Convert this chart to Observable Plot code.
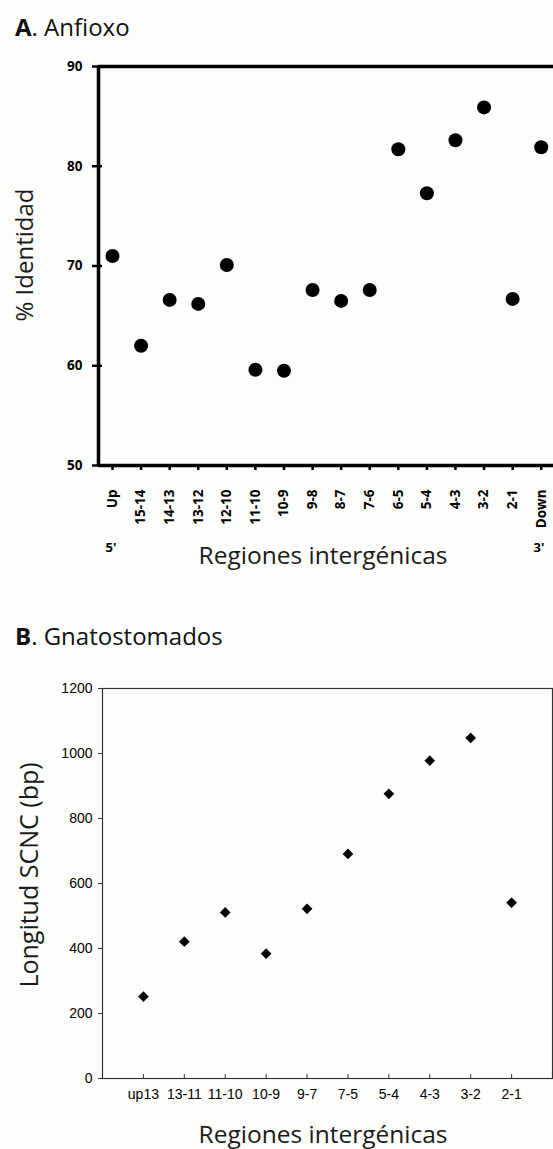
<!DOCTYPE html>
<html>
<head>
<meta charset="utf-8">
<script src="https://cdn.jsdelivr.net/npm/d3@7"></script>
<script src="https://cdn.jsdelivr.net/npm/@observablehq/plot@0.6"></script>
<style>
  html, body { margin: 0; padding: 0; background: #fdfdfb; }
  #wrap { position: relative; width: 553px; height: 1149px; overflow: hidden; font-family: "Open Sans", sans-serif; color: #111; }
  .title { position: absolute; left: 15px; font-size: 24px; line-height: 24px; white-space: nowrap; color: #111; }
  .title b { font-weight: 700; }
  #titleA { top: 15px; }
  #titleB { top: 624px; }
  #plotA { position: absolute; left: 0; top: 0; }
  #plotB { position: absolute; left: 0; top: 600px; }
  .lab { position: absolute; white-space: nowrap; line-height: 1; transform: translate(-50%, -50%); color: #1a1a1a; }
  .rot { transform: translate(-50%, -50%) rotate(-90deg); }
</style>
</head>
<body>
<div id="wrap">
  <div class="title" id="titleA"><b>A</b>. Anfioxo</div>
  <div id="plotA"></div>
  <div class="title" id="titleB"><b>B</b>. Gnatostomados</div>
  <div id="plotB"></div>
  <div class="lab rot" style="left:24px; top:255px; font-size:24px;">% Identidad</div>
  <div class="lab" style="left:323px; top:555px; font-size:24.5px;">Regiones intergénicas</div>
  <div class="lab" style="left:111px; top:547px; font-size:13px; font-weight:700; color:#000;">5'</div>
  <div class="lab" style="left:539px; top:547px; font-size:13px; font-weight:700; color:#000;">3'</div>
  <div class="lab rot" style="left:28px; top:875px; font-size:25px;">Longitud SCNC (bp)</div>
  <div class="lab" style="left:323px; top:1134px; font-size:24.5px;">Regiones intergénicas</div>
</div>
<script>
// ---- Panel A data ----
const regionsA = ["Up","15-14","14-13","13-12","12-10","11-10","10-9","9-8","8-7","7-6","6-5","5-4","4-3","3-2","2-1","Down"];
const identityA = [71.0, 62.0, 66.6, 66.2, 70.1, 59.6, 59.5, 67.6, 66.5, 67.6, 81.7, 77.3, 82.6, 85.9, 66.7, 81.9];
const ticksA = [50, 60, 70, 80, 90];

// ---- Panel B data ----
const regionsB = ["up13","13-11","11-10","10-9","9-7","7-5","5-4","4-3","3-2","2-1"];
const lengthB = [252, 421, 511, 384, 522, 691, 876, 978, 1048, 541];
const ticksB = [0, 200, 400, 600, 800, 1000, 1200];

const dataA = regionsA.map((r, i) => ({i, region: r, v: identityA[i]}));
const dataB = regionsB.map((r, i) => ({i: i + 1, region: r, v: lengthB[i]}));

const xDomA = [-0.49, 15.43];

const plotA = Plot.plot({
  width: 553,
  height: 600,
  marginLeft: 98,
  marginRight: 0,
  marginTop: 66,
  marginBottom: 135,
  style: {fontFamily: "Open Sans", fontSize: "13.5px", fontWeight: "bold", background: "transparent", overflow: "visible", color: "#000"},
  x: {type: "linear", domain: xDomA, label: null},
  y: {domain: [50, 90], label: null},
  marks: [
    Plot.ruleY([50, 90], {stroke: "#000", strokeWidth: 3.5}),
    Plot.ruleX([xDomA[0]], {y1: 50, y2: 90, stroke: "#000", strokeWidth: 3.5}),
    Plot.axisY(ticksA, {tickSize: 6, tickPadding: 10, strokeWidth: 2.5, stroke: "#000", fill: "#000", label: null}),
    Plot.axisY(ticksA, {tickSize: -4, text: null, strokeWidth: 2.5, stroke: "#000", label: null}),
    Plot.axisX(d3.range(regionsA.length), {tickFormat: i => regionsA[i], tickRotate: -90, tickSize: 5, tickPadding: 19, strokeWidth: 2.5, stroke: "#000", fill: "#000", label: null}),
    Plot.dot(dataA, {x: "i", y: "v", r: 7, fill: "#000"})
  ]
});
document.getElementById("plotA").appendChild(plotA);

const plotB = Plot.plot({
  width: 553,
  height: 549,
  marginLeft: 102,
  marginRight: 1,
  marginTop: 88,
  marginBottom: 71,
  style: {fontFamily: "Liberation Sans, Arial, sans-serif", fontSize: "14px", background: "transparent", overflow: "visible", color: "#000"},
  x: {type: "linear", domain: [0, regionsB.length + 1], label: null},
  y: {domain: [0, 1200], label: null},
  marks: [
    Plot.frame({stroke: "#333", strokeWidth: 1.2}),
    Plot.axisY(ticksB, {tickSize: 4, tickPadding: 6, tickFormat: d => String(d), label: null, stroke: "#333", fill: "#000"}),
    Plot.axisX(d3.range(1, regionsB.length + 1), {tickFormat: i => regionsB[i - 1], tickSize: 0, tickPadding: 11, fill: "#000", label: null}),
    Plot.axisX(d3.range(1, regionsB.length + 1), {tickSize: -4, text: null, stroke: "#333", label: null}),
    Plot.dot(dataB, {x: "i", y: "v", symbol: "diamond2", r: 4.8, fill: "#000", stroke: "none"})
  ]
});
document.getElementById("plotB").appendChild(plotB);
</script>
</body>
</html>
